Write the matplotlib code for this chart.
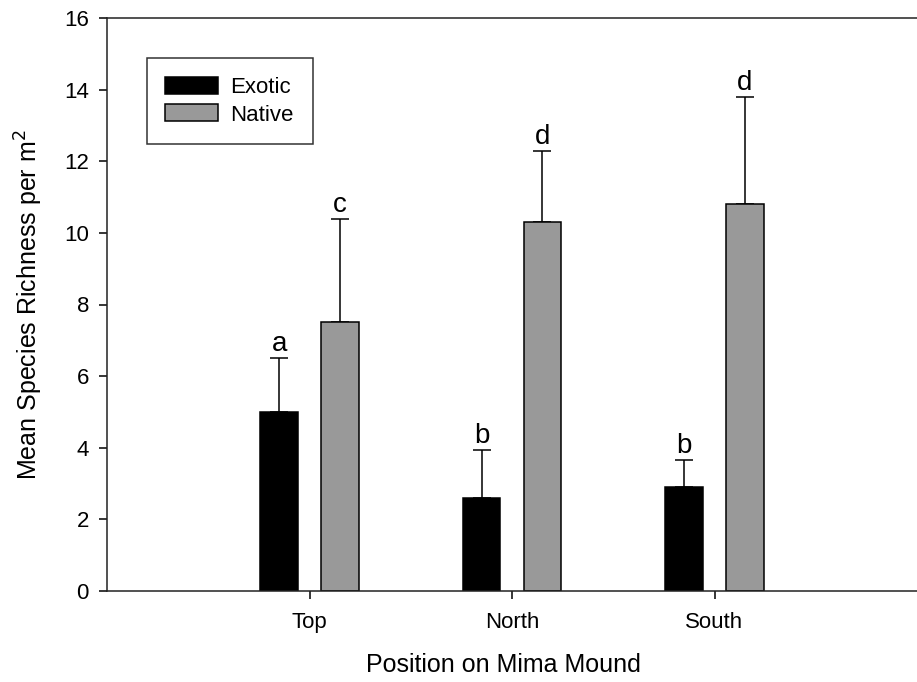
import numpy as np
import matplotlib

matplotlib.use("Agg")
import matplotlib.pyplot as plt

plt.rcParams["font.family"] = ["Liberation Sans", "DejaVu Sans"]

# Mean species richness per m2 on Mima mounds
positions = ["Top", "North", "South"]
exotic_mean = [5.0, 2.6, 2.9]
exotic_err = [1.5, 1.35, 0.75]
native_mean = [7.5, 10.3, 10.8]
native_err = [2.9, 2.0, 3.0]
exotic_letters = ["a", "b", "b"]
native_letters = ["c", "d", "d"]

fig = plt.figure(figsize=(9.17, 6.82), dpi=100)
ax = fig.add_axes([107 / 917, 1 - 591 / 682, 810 / 917, 573 / 682])

x = np.arange(1, len(positions) + 1)
offset = 0.15
width = 0.184

# Bars with one-sided (upper) error bars
ax.bar(x - offset, exotic_mean, width, color="black", edgecolor="black",
       linewidth=1.1, label="Exotic", zorder=2)
ax.bar(x + offset, native_mean, width, color="#999999", edgecolor="black",
       linewidth=1.1, label="Native", zorder=2)
ax.errorbar(x - offset, exotic_mean, yerr=[np.zeros(3), exotic_err], fmt="none",
            ecolor="black", elinewidth=1.1, capsize=6.5, capthick=1.1, zorder=1)
ax.errorbar(x + offset, native_mean, yerr=[np.zeros(3), native_err], fmt="none",
            ecolor="black", elinewidth=1.1, capsize=6.5, capthick=1.1, zorder=1)

# Significance letters above the error bars
for i in range(len(positions)):
    ax.annotate(exotic_letters[i], (x[i] - offset, exotic_mean[i] + exotic_err[i]),
                xytext=(0, 5), textcoords="offset points", ha="center",
                va="baseline", fontsize=20)
    ax.annotate(native_letters[i], (x[i] + offset, native_mean[i] + native_err[i]),
                xytext=(0, 5), textcoords="offset points", ha="center",
                va="baseline", fontsize=20)

ax.set_xlim(0, 4)
ax.set_ylim(0, 16)
ax.set_xticks(x)
ax.set_xticklabels(positions)
ax.set_yticks(np.arange(0, 17, 2))
ax.tick_params(axis="both", direction="out", length=6, width=1.1, labelsize=16)
ax.tick_params(axis="x", pad=9)
ax.tick_params(axis="y", pad=7)

ax.spines["right"].set_visible(False)
for side in ["left", "bottom", "top"]:
    ax.spines[side].set_linewidth(1.1)
    ax.spines[side].set_color("#222222")

ax.set_xlabel("Position on Mima Mound", fontsize=18)
ax.xaxis.set_label_coords(0.489, -0.13)
ax.xaxis.label.set_va("center")
ax.set_ylabel("Mean Species Richness per m$^2$", fontsize=18, labelpad=14)

leg = ax.legend(loc="upper left", bbox_to_anchor=(0.049, 0.93), borderaxespad=0,
                fontsize=16, fancybox=False, frameon=True, edgecolor="black",
                handlelength=2.39, handleheight=0.81, handletextpad=0.54,
                labelspacing=0.28, borderpad=0.84)
leg.get_frame().set_linewidth(1.1)

fig.savefig("out.png", dpi=100)
